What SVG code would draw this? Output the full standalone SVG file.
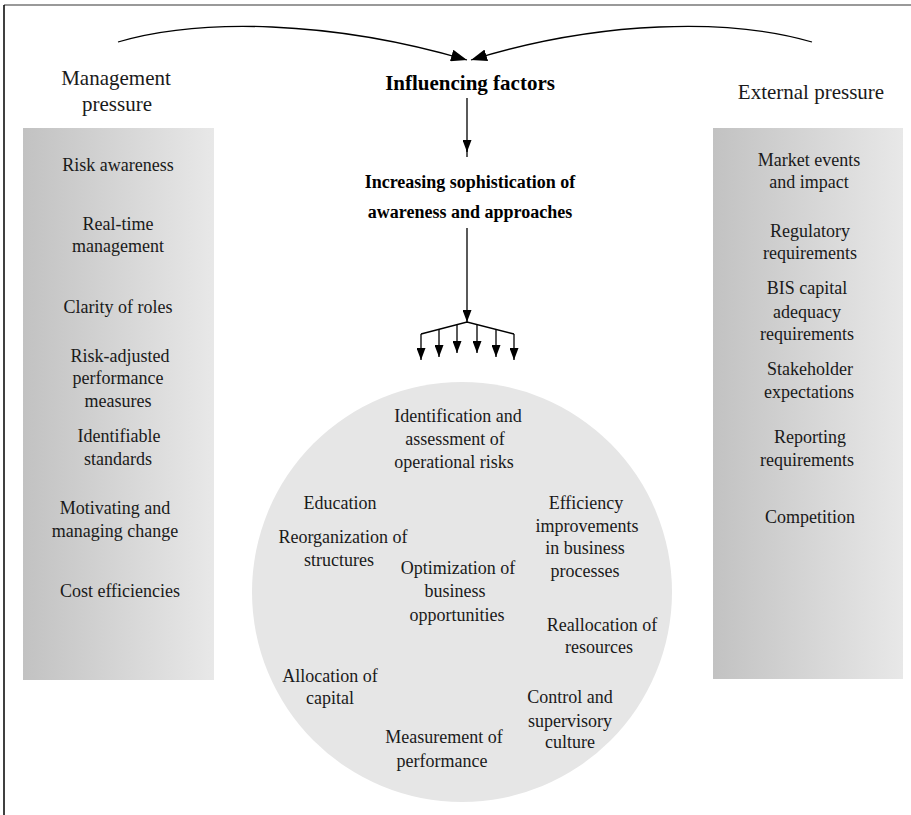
<svg xmlns="http://www.w3.org/2000/svg" width="911" height="815" viewBox="0 0 911 815">
<style>
text{font-family:"Liberation Serif","Times New Roman",serif;fill:#1a1a1a;text-anchor:middle}
.t{font-size:18px}
.h{font-size:21px}
.b{font-size:21px;font-weight:bold;fill:#000}
.b2{font-size:18px;font-weight:bold;fill:#000}
.c{fill:none;stroke:#000;stroke-width:1.3}
</style>
<defs>
<linearGradient id="g" x1="0" y1="0" x2="1" y2="0">
<stop offset="0" stop-color="#c2c2c2"/>
<stop offset="1" stop-color="#e8e8e8"/>
</linearGradient>
<marker id="ah" markerUnits="userSpaceOnUse" markerWidth="12" markerHeight="9" refX="12" refY="4.5" orient="auto">
<path d="M0,0 L12,4.5 L0,9 z" fill="#000"/>
</marker>
<marker id="ahb" markerUnits="userSpaceOnUse" markerWidth="16" markerHeight="12" refX="16" refY="6" orient="auto">
<path d="M0,0 L16,6 L0,12 z" fill="#000"/>
</marker>
</defs>
<rect width="911" height="815" fill="#fff"/>
<g id="frame">
<line x1="4" y1="5" x2="911" y2="5" stroke="#777" stroke-width="1.5"/>
<line x1="4" y1="5" x2="4" y2="815" stroke="#000" stroke-width="1.5"/>
</g>
<g id="connectors">
<path class="c" d="M118,42 C200,18 330,20 467,60" marker-end="url(#ahb)"/>
<path class="c" d="M812,42 C730,18 600,20 471,60" marker-end="url(#ahb)"/>
<line class="c" x1="467" y1="98" x2="467" y2="157"/>
<line class="c" x1="467" y1="140" x2="467" y2="152" marker-end="url(#ah)"/>
<line class="c" x1="467" y1="228" x2="467" y2="322" marker-end="url(#ah)"/>
<polyline class="c" points="421,334 467,322 514,334"/>
<line class="c" x1="421" y1="334" x2="421" y2="360" marker-end="url(#ah)"/>
<line class="c" x1="439" y1="329" x2="439" y2="357" marker-end="url(#ah)"/>
<line class="c" x1="457" y1="325" x2="457" y2="353" marker-end="url(#ah)"/>
<line class="c" x1="477" y1="325" x2="477" y2="353" marker-end="url(#ah)"/>
<line class="c" x1="496" y1="329" x2="496" y2="357" marker-end="url(#ah)"/>
<line class="c" x1="514" y1="334" x2="514" y2="360" marker-end="url(#ah)"/>
</g>
<g id="influencing">
<text class="b" x="470" y="90">Influencing factors</text>
</g>
<g id="sophistication">
<text class="b2" x="470" y="188">Increasing sophistication of</text>
<text class="b2" x="470" y="218">awareness and approaches</text>
</g>
<g id="management">
<text class="h" x="116" y="85">Management</text>
<text class="h" x="117" y="111">pressure</text>
<rect x="23" y="128" width="191" height="552" fill="url(#g)"/>
<text class="t" x="118" y="171">Risk awareness</text>
<text class="t" x="118" y="230">Real-time</text>
<text class="t" x="118" y="252">management</text>
<text class="t" x="118" y="313">Clarity of roles</text>
<text class="t" x="120" y="362">Risk-adjusted</text>
<text class="t" x="118" y="384">performance</text>
<text class="t" x="118" y="407">measures</text>
<text class="t" x="119" y="442">Identifiable</text>
<text class="t" x="118" y="465">standards</text>
<text class="t" x="115" y="514">Motivating and</text>
<text class="t" x="115" y="537">managing change</text>
<text class="t" x="120" y="597">Cost efficiencies</text>
</g>
<g id="external">
<text class="h" x="811" y="99">External pressure</text>
<rect x="713" y="128" width="190" height="551" fill="url(#g)"/>
<text class="t" x="809" y="166">Market events</text>
<text class="t" x="809" y="188">and impact</text>
<text class="t" x="810" y="237">Regulatory</text>
<text class="t" x="810" y="259">requirements</text>
<text class="t" x="807" y="294">BIS capital</text>
<text class="t" x="807" y="318">adequacy</text>
<text class="t" x="807" y="340">requirements</text>
<text class="t" x="810" y="375">Stakeholder</text>
<text class="t" x="809" y="398">expectations</text>
<text class="t" x="810" y="443">Reporting</text>
<text class="t" x="807" y="466">requirements</text>
<text class="t" x="810" y="523">Competition</text>
</g>
<g id="circle">
<circle cx="462" cy="592" r="210" fill="#e6e6e6"/>
<text class="t" x="458" y="422">Identification and</text>
<text class="t" x="455" y="445">assessment of</text>
<text class="t" x="454" y="468">operational risks</text>
<text class="t" x="340" y="509">Education</text>
<text class="t" x="343" y="543">Reorganization of</text>
<text class="t" x="339" y="566">structures</text>
<text class="t" x="458" y="574">Optimization of</text>
<text class="t" x="455" y="597">business</text>
<text class="t" x="457" y="621">opportunities</text>
<text class="t" x="586" y="509">Efficiency</text>
<text class="t" x="587" y="532">improvements</text>
<text class="t" x="585" y="554">in business</text>
<text class="t" x="585" y="577">processes</text>
<text class="t" x="602" y="631">Reallocation of</text>
<text class="t" x="599" y="653">resources</text>
<text class="t" x="330" y="682">Allocation of</text>
<text class="t" x="330" y="704">capital</text>
<text class="t" x="570" y="703">Control and</text>
<text class="t" x="570" y="727">supervisory</text>
<text class="t" x="570" y="748">culture</text>
<text class="t" x="444" y="743">Measurement of</text>
<text class="t" x="442" y="767">performance</text>
</g>
</svg>
